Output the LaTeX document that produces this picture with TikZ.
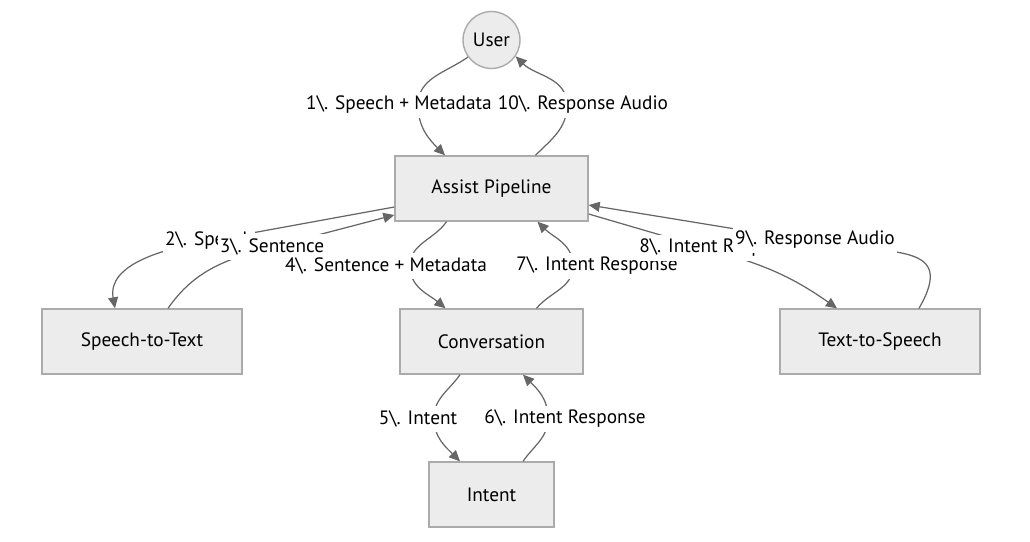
\documentclass[tikz,border=0pt]{standalone}
\usepackage{fontspec}
\setmainfont{PT Sans}
\usetikzlibrary{arrows.meta,calc}
\definecolor{boxfill}{HTML}{ECECEC}
\definecolor{boxline}{HTML}{ABABAB}
\definecolor{flowline}{HTML}{666666}

\begin{document}
\begin{tikzpicture}[x=0.02cm, y=0.02cm, font=\fontsize{11}{13}\selectfont,
  box/.style={draw=boxline, fill=boxfill, line width=0.8pt, minimum height=1.3cm},
  flow/.style={draw=flowline, line width=0.7pt, -{Triangle[length=2.2mm,width=2mm]}},
  tag/.style={fill=white, inner xsep=1pt, inner ysep=2.5pt}]
\useasboundingbox (0,0) rectangle (1030,-541);
\node[box, circle, minimum size=1.14cm, inner sep=0pt] (user) at (491.5,-40) {User};
\node[box, minimum width=3.86cm] (assist) at (491.5,-188.5) {Assist Pipeline};
\node[box, minimum width=4cm] (stt) at (142,-341.5) {Speech-to-Text};
\node[box, minimum width=3.66cm] (conv) at (491.5,-341.5) {Conversation};
\node[box, minimum width=4cm] (tts) at (880,-341.5) {Text-to-Speech};
\node[box, minimum width=2.5cm] (intent) at (491.5,-494.5) {Intent};

\coordinate (p1) at (418,-105);
\coordinate (p10) at (567,-105);
\coordinate (p2) at (208,-241);
\coordinate (p3) at (272,-247);
\coordinate (p4) at (410,-266);
\coordinate (p7) at (573,-266);
\coordinate (p8) at (722,-253);
\coordinate (p9) at (815,-242);
\coordinate (p5) at (434,-418);
\coordinate (p6) at (548,-418);

\draw[flow] (user.216) to[out=215,in=90] (p1) to[out=-90,in=135] ($(assist.north)+(-46.5,0)$);
\draw[flow] ($(assist.north)+(44,0)$) to[out=45,in=-90] (p10) to[out=90,in=-45] (user.-34);
\draw[flow] ($(assist.west)+(0,-18.5)$) -- (p2) to[out=190,in=100] ($(stt.north)+(-27,0)$);
\draw[flow] ($(stt.north)+(26,0)$) to[out=55,in=195] (p3) -- ($(assist.west)+(0,-26.5)$);
\draw[flow] ($(assist.south)+(-45,0)$) to[out=235,in=90] (p4) to[out=-90,in=140] ($(conv.north)+(-46,0)$);
\draw[flow] ($(conv.north)+(45,0)$) to[out=50,in=-90] (p7) to[out=90,in=-45] ($(assist.south)+(46,0)$);
\draw[flow] ($(assist.east)+(0,-25.5)$) -- (p8) to[out=-16,in=145] ($(tts.north)+(-43,0)$);
\draw[flow] ($(tts.north)+(39,0)$) to[out=60,in=-10,looseness=1.6] (p9) -- ($(assist.east)+(0,-16.5)$);
\draw[flow] ($(conv.south)+(-31.5,0)$) to[out=235,in=90] (p5) to[out=-90,in=135] ($(intent.north)+(-31.5,0)$);
\draw[flow] ($(intent.north)+(31.5,0)$) to[out=55,in=-90] (p6) to[out=90,in=-45] ($(conv.south)+(31.5,0)$);

\node[tag] (l1) at (399,-105) {1\textbackslash. Speech + Metadata};
\node[tag] (l10) at (583,-105) {10\textbackslash. Response Audio};
\node[tag, anchor=west] (l2) at (163,-241) {2\textbackslash. Speech};
\node[tag] (l3) at (272,-247) {3\textbackslash. Sentence};
\node[tag] (l4) at (386,-266) {4\textbackslash. Sentence + Metadata};
\node[tag] (l5) at (418,-419) {5\textbackslash. Intent};
\node[tag] (l6) at (565,-419) {6\textbackslash. Intent Response};
\node[tag] (l7) at (597,-266) {7\textbackslash. Intent Response};
\node[tag] (l8) at (720,-248) {8\textbackslash. Intent Response};
\node[tag] (l9) at (815,-240) {9\textbackslash. Response Audio};
\end{tikzpicture}
\end{document}
